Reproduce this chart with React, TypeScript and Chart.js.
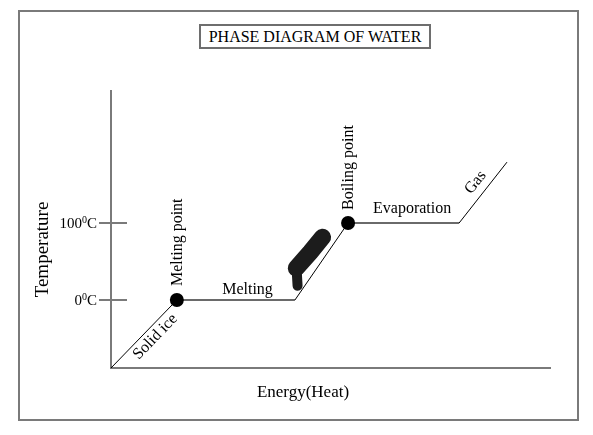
import React, { useEffect, useRef } from 'react';
import { Chart, registerables } from 'chart.js';

Chart.register(...registerables);

// ---- data ----
const ENERGY = [0, 15, 41.9, 54, 79.3, 90.2];
const TEMPERATURE = [-88.3, 0, 0, 100, 100, 179];
const MARKED_POINTS = [false, true, false, true, false, false];

const SCRIBBLE_BODY_X = [42.2, 45.4, 48.2];
const SCRIBBLE_BODY_Y = [41.5, 62, 81.5];
const SCRIBBLE_TAIL_X = [42.3, 42.5];
const SCRIBBLE_TAIL_Y = [38, 18.5];

const X_MIN = 0;
const X_MAX = 100;
const Y_MIN = -88.3;
const Y_MAX = 271.4;

const Y_TICK_VALUES = [0, 100];
const Y_TICK_LABELS = ['0', '100'];
const Y_TICK_SUP = '0';
const Y_TICK_UNIT = 'C';

const TITLE = 'PHASE DIAGRAM OF WATER';
const X_TITLE = 'Energy(Heat)';
const Y_TITLE = 'Temperature';

const LABEL_TEXTS = ['Melting point', 'Boiling point', 'Melting', 'Evaporation', 'Solid ice', 'Gas'];
const LABEL_X = [15, 54, 31.1, 68.6, 8.3, 85.2];
const LABEL_Y = [0, 100, 0, 100, -37.9, 143];

// ---- styles (not data) ----
const FONT = '"Liberation Serif", "Times New Roman", serif';
const GRAY = '#7a7a7a';
type LabelStyle = { angle: number | 'seg0' | 'seg4'; dx: number; dy: number; align: CanvasTextAlign; baseline: CanvasTextBaseline };
const LABEL_STYLES: LabelStyle[] = [
  { angle: -90, dx: 14, dy: 5, align: 'left', baseline: 'alphabetic' },
  { angle: -90, dx: 13, dy: 5, align: 'left', baseline: 'alphabetic' },
  { angle: 0, dx: 0, dy: -6, align: 'center', baseline: 'alphabetic' },
  { angle: 0, dx: 0, dy: -10, align: 'center', baseline: 'alphabetic' },
  { angle: 'seg0', dx: 0, dy: 11, align: 'center', baseline: 'middle' },
  { angle: 'seg4', dx: 0, dy: -12, align: 'center', baseline: 'middle' },
];

const annotationPlugin = {
  id: 'phaseAnnotations',
  afterDraw(chart: any) {
    const { ctx, chartArea, scales } = chart;
    const xs = scales.x;
    const ys = scales.y;
    ctx.save();

    // y tick marks crossing the axis + labels with superscript
    ys.ticks.forEach((t: any, i: number) => {
      const py = ys.getPixelForValue(t.value);
      ctx.strokeStyle = GRAY;
      ctx.lineWidth = 2;
      ctx.beginPath();
      ctx.moveTo(chartArea.left - 12, py);
      ctx.lineTo(chartArea.left + 16, py);
      ctx.stroke();

      const main = Y_TICK_LABELS[i];
      ctx.fillStyle = '#000';
      ctx.textBaseline = 'alphabetic';
      ctx.textAlign = 'left';
      ctx.font = `15px ${FONT}`;
      const wMain = ctx.measureText(main).width;
      const wUnit = ctx.measureText(Y_TICK_UNIT).width;
      ctx.font = `10px ${FONT}`;
      const wSup = ctx.measureText(Y_TICK_SUP).width;
      const total = wMain + wSup + wUnit;
      let x = chartArea.left - 14 - total;
      ctx.font = `15px ${FONT}`;
      ctx.fillText(main, x, py + 5);
      x += wMain;
      ctx.font = `10px ${FONT}`;
      ctx.fillText(Y_TICK_SUP, x, py);
      x += wSup;
      ctx.font = `15px ${FONT}`;
      ctx.fillText(Y_TICK_UNIT, x, py + 5);
    });

    // axis titles
    ctx.fillStyle = '#000';
    ctx.font = `19px ${FONT}`;
    ctx.save();
    ctx.translate(chartArea.left - 63, (chartArea.top + chartArea.bottom) / 2 + 20);
    ctx.rotate(-Math.PI / 2);
    ctx.textAlign = 'center';
    ctx.textBaseline = 'alphabetic';
    ctx.fillText(Y_TITLE, 0, 0);
    ctx.restore();

    ctx.font = `17px ${FONT}`;
    ctx.textAlign = 'center';
    ctx.textBaseline = 'alphabetic';
    ctx.fillText(X_TITLE, (chartArea.left + chartArea.right) / 2 - 27.5, chartArea.bottom + 29);

    // segment angle helper
    const segAngle = (i: number) => {
      const x0 = xs.getPixelForValue(ENERGY[i]);
      const y0 = ys.getPixelForValue(TEMPERATURE[i]);
      const x1 = xs.getPixelForValue(ENERGY[i + 1]);
      const y1 = ys.getPixelForValue(TEMPERATURE[i + 1]);
      return Math.atan2(y1 - y0, x1 - x0);
    };

    ctx.font = `16px ${FONT}`;
    LABEL_TEXTS.forEach((text, i) => {
      const st = LABEL_STYLES[i];
      const px = xs.getPixelForValue(LABEL_X[i]);
      const py = ys.getPixelForValue(LABEL_Y[i]);
      let a = 0;
      if (st.angle === 'seg0') a = segAngle(0);
      else if (st.angle === 'seg4') a = segAngle(4);
      else a = (st.angle * Math.PI) / 180;
      ctx.save();
      ctx.translate(px, py);
      ctx.rotate(a);
      ctx.textAlign = st.align;
      ctx.textBaseline = st.baseline;
      ctx.fillText(text, st.dx, st.dy);
      ctx.restore();
    });

    ctx.restore();
  },
};

export default function App() {
  const canvasRef = useRef<HTMLCanvasElement | null>(null);

  useEffect(() => {
    if (!canvasRef.current) return;
    const sameY = (c: any) => c.p0.parsed.y === c.p1.parsed.y;
    const chart = new Chart(canvasRef.current, {
      type: 'line',
      data: {
        datasets: [
          {
            label: 'Scribble body',
            data: SCRIBBLE_BODY_X.map((x, i) => ({ x, y: SCRIBBLE_BODY_Y[i] })),
            borderColor: '#1c1c1c',
            borderWidth: 17,
            borderCapStyle: 'round',
            borderJoinStyle: 'round',
            pointRadius: 0,
            clip: false as any,
          },
          {
            label: 'Scribble tail',
            data: SCRIBBLE_TAIL_X.map((x, i) => ({ x, y: SCRIBBLE_TAIL_Y[i] })),
            borderColor: '#1c1c1c',
            borderWidth: 10,
            borderCapStyle: 'round',
            borderJoinStyle: 'round',
            pointRadius: 0,
            clip: false as any,
          },
          {
            label: 'Heating curve',
            data: ENERGY.map((x, i) => ({ x, y: TEMPERATURE[i] })),
            borderColor: '#000',
            borderWidth: 1,
            pointRadius: MARKED_POINTS.map((m) => (m ? 7 : 0)),
            pointBackgroundColor: '#000',
            pointBorderWidth: 0,
            tension: 0,
            clip: false as any,
            segment: {
              borderColor: (c: any) => (sameY(c) ? '#6a6a6a' : '#000'),
              borderWidth: (c: any) => (sameY(c) ? 2 : 1),
            } as any,
          },
        ],
      },
      options: {
        animation: false,
        responsive: false,
        devicePixelRatio: 1,
        events: [],
        layout: { padding: { left: 111, top: 91, right: 43, bottom: 67 } },
        plugins: { legend: { display: false }, tooltip: { enabled: false }, title: { display: false } },
        scales: {
          x: {
            type: 'linear',
            min: X_MIN,
            max: X_MAX,
            grid: { display: false },
            ticks: { display: false },
            border: { display: true, color: GRAY, width: 2 },
            afterFit: (s: any) => {
              s.height = 0;
            },
          },
          y: {
            type: 'linear',
            min: Y_MIN,
            max: Y_MAX,
            grid: { display: false },
            ticks: { display: false },
            border: { display: true, color: GRAY, width: 2 },
            afterBuildTicks: (s: any) => {
              s.ticks = Y_TICK_VALUES.map((v) => ({ value: v }));
            },
            afterFit: (s: any) => {
              s.width = 0;
            },
          },
        },
      },
      plugins: [annotationPlugin],
    } as any);
    return () => chart.destroy();
  }, []);

  return (
    <div style={{ position: 'fixed', left: 0, top: 0, width: 593, height: 435, background: '#fff' }}>
      <div
        style={{
          position: 'absolute',
          left: 18,
          top: 10,
          width: 561,
          height: 411,
          border: `2px solid ${GRAY}`,
          boxSizing: 'border-box',
        }}
      />
      <div
        style={{
          position: 'absolute',
          left: 199,
          top: 24,
          width: 232,
          height: 25,
          border: '2px solid #6e6e6e',
          boxSizing: 'border-box',
          display: 'flex',
          alignItems: 'center',
          justifyContent: 'center',
          fontFamily: FONT,
          fontSize: 16,
          lineHeight: '18px',
          color: '#000',
          whiteSpace: 'nowrap',
        }}
      >
        {TITLE}
      </div>
      <canvas
        ref={canvasRef}
        width={593}
        height={435}
        style={{ position: 'absolute', left: 0, top: 0, width: 593, height: 435 }}
      />
    </div>
  );
}
